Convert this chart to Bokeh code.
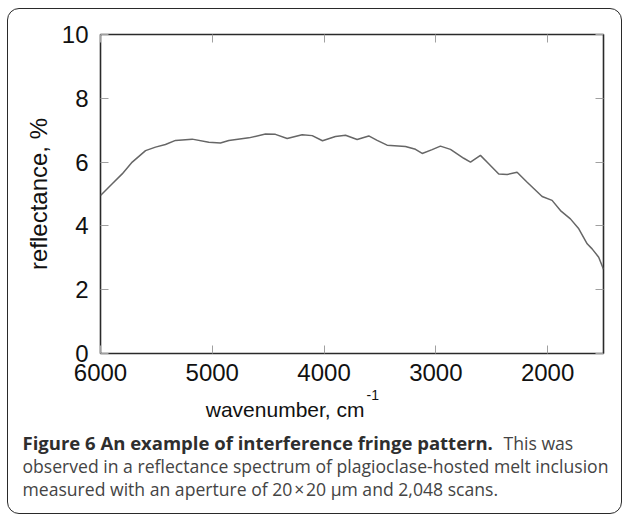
from bokeh.core.properties import value
from bokeh.embed import file_html
from bokeh.layouts import column
from bokeh.models import FixedTicker, InlineStyleSheet, LinearAxis, Range1d
from bokeh.plotting import figure
from bokeh.resources import INLINE

# Reflectance spectrum of a plagioclase-hosted melt inclusion
wavenumber = [6000, 5895, 5806, 5716, 5597, 5508, 5419, 5329, 5180, 5031,
              4927, 4852, 4673, 4524, 4435, 4330, 4196, 4106, 4014, 3898,
              3808, 3704, 3600, 3525, 3436, 3272, 3182, 3122, 3033, 2959,
              2869, 2750, 2690, 2601, 2527, 2437, 2362, 2273, 2183, 2049,
              1960, 1885, 1796, 1721, 1646, 1602, 1543, 1500]
reflectance = [4.95, 5.32, 5.63, 6.00, 6.36, 6.47, 6.55, 6.68, 6.72, 6.62,
               6.60, 6.68, 6.76, 6.88, 6.87, 6.74, 6.86, 6.83, 6.67, 6.80,
               6.84, 6.71, 6.82, 6.68, 6.53, 6.49, 6.40, 6.27, 6.39, 6.50,
               6.40, 6.12, 6.00, 6.21, 5.95, 5.63, 5.61, 5.68, 5.37, 4.92,
               4.80, 4.48, 4.22, 3.91, 3.44, 3.28, 3.02, 2.64]

x_ticks = [6000, 5000, 4000, 3000, 2000]
y_ticks = [0, 2, 4, 6, 8, 10]

x_title = "wavenumber, cm"
x_title_sup = "-1"
y_title = "reflectance, %"
caption_title = "Figure 6 An example of interference fringe pattern."
caption_lines = [
    "This was",
    "observed in a reflectance spectrum of plagioclase-hosted melt inclusion",
    "measured with an aperture of 20\u200a\u00d7\u200a20 \u03bcm and 2,048 scans.",
]

AXIS_FONT = "Liberation Sans"
CAPTION_FONT = "Open Sans"
INK = "#111111"

# ---- spectrum panel -------------------------------------------------------
p = figure(width=624, height=388, output_backend="svg", toolbar_location=None,
           x_range=Range1d(6000, 1500), y_range=Range1d(0, 10),
           min_border_left=100, min_border_right=21,
           min_border_top=34, min_border_bottom=35,
           x_axis_type=None, y_axis_type=None, frame_align=False)
p.grid.visible = False
p.outline_line_color = "#2a2a2a"
p.outline_line_width = 1.6


def style_axis(ax, show_labels):
    ax.axis_line_color = None
    ax.major_tick_in = 8
    ax.major_tick_out = 0
    ax.major_tick_line_color = "#a0a0a0"
    ax.major_tick_line_width = 1
    ax.minor_tick_line_color = None
    ax.major_label_text_font = AXIS_FONT
    ax.major_label_text_font_size = "24px"
    ax.major_label_text_color = INK if show_labels else None


xb = LinearAxis(ticker=FixedTicker(ticks=x_ticks))
style_axis(xb, True)
xb.major_label_standoff = 10
p.add_layout(xb, "below")

xt = LinearAxis(ticker=FixedTicker(ticks=x_ticks))
style_axis(xt, False)
p.add_layout(xt, "above")

yl = LinearAxis(ticker=FixedTicker(ticks=y_ticks), axis_label=y_title)
style_axis(yl, True)
yl.major_label_standoff = 12
yl.axis_label_standoff = 7
yl.axis_label_text_font = AXIS_FONT
yl.axis_label_text_font_size = "24px"
yl.axis_label_text_font_style = "normal"
yl.axis_label_text_color = INK
p.add_layout(yl, "left")

yr = LinearAxis(ticker=FixedTicker(ticks=y_ticks))
style_axis(yr, False)
p.add_layout(yr, "right")

p.line(wavenumber, reflectance, line_color="#666666", line_width=1.5)

# ---- x-axis title and caption (pixel-like coordinates, y downward) --------
cap = figure(width=624, height=130, output_backend="svg", toolbar_location=None,
             x_range=Range1d(0, 624), y_range=Range1d(130, 0),
             min_border=0, x_axis_type=None, y_axis_type=None,
             frame_align=False)
cap.grid.visible = False
cap.outline_line_color = None

cap.text(x=[364], y=[21], text=[x_title], text_align="right",
         text_baseline="alphabetic", text_font=value(AXIS_FONT),
         text_font_size=value("21px"), text_color=INK)
cap.text(x=[366], y=[6], text=[x_title_sup], text_align="left",
         text_baseline="alphabetic", text_font=value(AXIS_FONT),
         text_font_size=value("14px"), text_color=INK)

cap.text(x=[22], y=[54], text=[caption_title], text_align="left",
         text_baseline="alphabetic", text_font=value(CAPTION_FONT),
         text_font_style="bold", text_font_size=value("18.5px"),
         text_color="#2e2e2e")
cap.text(x=[503, 22, 22], y=[54, 77, 100], text=caption_lines,
         text_align="left", text_baseline="alphabetic",
         text_font=value(CAPTION_FONT), text_font_size=value("17.6px"),
         text_color="#444444")

# rounded border drawn around the whole figure
frame_css = InlineStyleSheet(css="""
:host { position: relative; }
:host::after {
  content: "";
  position: absolute;
  left: 7px; top: 8px; right: 2px; bottom: 4px;
  border: 1.5px solid #2a2a2a;
  border-radius: 12px;
  pointer-events: none;
  z-index: 10;
}
""")

layout = column(p, cap, spacing=0, stylesheets=[frame_css])

open("out.html", "w").write(file_html(layout, INLINE))
